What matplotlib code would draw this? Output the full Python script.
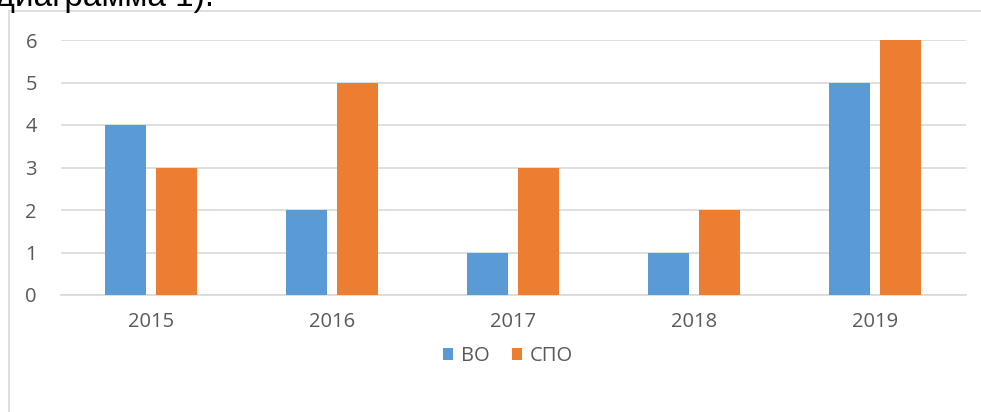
import numpy as np
import matplotlib.pyplot as plt
from matplotlib.patches import Rectangle

years = ["2015", "2016", "2017", "2018", "2019"]
vo = [4, 2, 1, 1, 5]
spo = [3, 5, 3, 2, 6]
series_names = ["ВО", "СПО"]

W, H = 981, 412
fig = plt.figure(figsize=(W / 100, H / 100), dpi=100)
plt.rcParams['font.family'] = ['Open Sans', 'DejaVu Sans']

# chart frame (cut off on the right and bottom)
fig.patches.append(Rectangle((8.5 / W, -0.1), 1.2, (H - 11) / H + 0.1,
                             transform=fig.transFigure, fill=False,
                             edgecolor="#d9d9d9", linewidth=1.2))

# clipped text of the document above the chart
fig.text(214 / W, (H - 6) / H, "(диаграмма 1).", ha="right", va="baseline",
         fontsize=24, family="Liberation Sans", color="black")

ax = fig.add_axes([60.5 / W, (H - 295) / H, 905 / W, 255 / H])
x = np.arange(len(years))
w = 0.227
off = 0.141
ax.bar(x - off, vo, w, color="#5b9bd5", label=series_names[0], zorder=3)
ax.bar(x + off, spo, w, color="#ed7d31", label=series_names[1], zorder=3)

ax.set_xlim(-0.5, len(years) - 0.5)
ax.set_ylim(0, 6)
ax.set_yticks(range(7))
ax.set_xticks(x)
ax.set_xticklabels(years)
ax.yaxis.grid(True, color="#d9d9d9", linewidth=1.2, zorder=0)
for s in ["top", "right", "left"]:
    ax.spines[s].set_visible(False)
ax.spines["bottom"].set_color("#d9d9d9")
ax.spines["bottom"].set_linewidth(1.2)
ax.tick_params(length=0, labelsize=14.5, colors="#595959")
ax.tick_params(axis="y", pad=17)
ax.tick_params(axis="x", pad=12)

ax.legend(loc="center", bbox_to_anchor=(508 / W, (H - 356) / H),
          bbox_transform=fig.transFigure, ncol=2, frameon=False,
          fontsize=14.5, labelcolor="#595959", handlelength=0.5,
          handleheight=0.5, handletextpad=0.4, columnspacing=1.1)

fig.savefig("out.png", dpi=100)
